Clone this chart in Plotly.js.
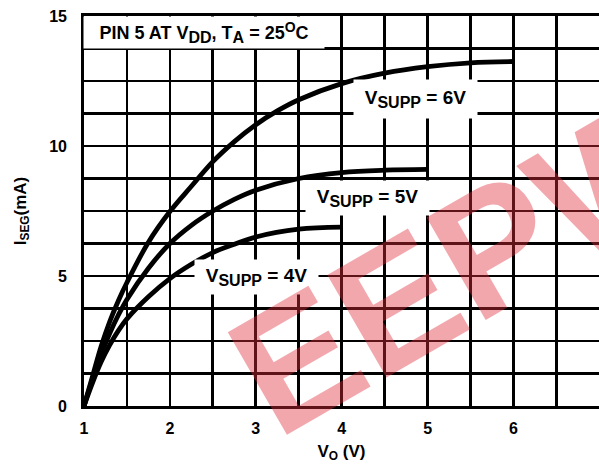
<!DOCTYPE html>
<html>
<head>
<meta charset="utf-8">
<script src="https://cdn.plot.ly/plotly-3.0.1.min.js"></script>
<style>html,body{margin:0;padding:0;background:#fff;}#chart{width:599px;height:465px;}</style>
</head>
<body>
<div id="chart"></div>
<script>
// Output voltage V_O (V) and segment current I_SEG (mA)
const vo6 = [1, 1.1, 1.2, 1.3, 1.4, 1.5, 1.75, 2.0, 2.25, 2.5, 2.75, 3.0, 3.25, 3.5, 4.0, 4.5, 5.0, 5.5, 6.0];
const iseg6 = [0, 1.15, 2.3, 3.25, 4.05, 4.75, 6.3, 7.48, 8.45, 9.4, 10.17, 10.82, 11.35, 11.78, 12.4, 12.8, 13.05, 13.2, 13.25];

const vo5 = [1, 1.1, 1.2, 1.3, 1.4, 1.5, 1.75, 2.0, 2.25, 2.5, 2.75, 3.0, 3.5, 4.0, 4.5, 5.0];
const iseg5 = [0, 1.05, 2.0, 2.8, 3.5, 4.1, 5.3, 6.25, 6.95, 7.5, 7.95, 8.3, 8.75, 8.98, 9.07, 9.1];

const vo4 = [1, 1.1, 1.2, 1.3, 1.4, 1.5, 1.75, 2.0, 2.25, 2.5, 2.75, 3.0, 3.5, 4.0];
const iseg4 = [0, 0.9, 1.7, 2.35, 2.9, 3.35, 4.2, 4.9, 5.45, 5.9, 6.22, 6.5, 6.8, 6.88];

const seriesNames = ["V<sub>SUPP</sub> = 6V", "V<sub>SUPP</sub> = 5V", "V<sub>SUPP</sub> = 4V"];

const FONT = "Liberation Sans, Arial, Helvetica, sans-serif";
const lineStyle = {color: "black", width: 4.8, shape: "spline", smoothing: 1};

const traces = [
  {x: vo6, y: iseg6, name: seriesNames[0], mode: "lines", line: lineStyle},
  {x: vo5, y: iseg5, name: seriesNames[1], mode: "lines", line: lineStyle},
  {x: vo4, y: iseg4, name: seriesNames[2], mode: "lines", line: lineStyle}
];

function sub(s, px) { return '<sub><span style="font-size:' + px + 'px">' + s + '</span></sub>'; }
function lbl(txt, x, y, w, h) {
  return {
    text: txt, x: x, y: y, xref: "x", yref: "y", showarrow: false,
    bgcolor: "white", width: w, height: h, borderpad: 0,
    font: {family: FONT, size: 19, color: "black", weight: "bold"}
  };
}

const annotations = [
  {
    text: "PIN 5 AT V" + sub("DD", 16) + ", T" + sub("A", 16) + ' = 25<sup><span style="font-size:14px">O</span></sup>C',
    x: 2.40, y: 14.35, xref: "x", yref: "y", showarrow: false,
    bgcolor: "white", width: 240, height: 31, borderpad: 0,
    font: {family: FONT, size: 18, color: "black", weight: "bold"}
  },
  lbl("V" + sub("SUPP", 16) + " = 6V", 4.86, 11.8, 123, 38),
  lbl("V" + sub("SUPP", 16) + " = 5V", 4.30, 8.0, 123, 34),
  lbl("V" + sub("SUPP", 16) + " = 4V", 3.01, 4.95, 123, 34),
  {
    text: "EEPW", x: 5.45, y: 5.55, xref: "x", yref: "y", showarrow: false,
    textangle: -30,
    font: {family: FONT, size: 172, color: "rgba(225,45,60,0.42)", weight: "bold"}
  }
];

const layout = {
  width: 599, height: 465,
  margin: {l: 84, r: 0, t: 16, b: 59},
  paper_bgcolor: "white", plot_bgcolor: "white",
  showlegend: false,
  font: {family: FONT, color: "black"},
  xaxis: {
    range: [1, 6.995],
    tickmode: "linear", tick0: 1, dtick: 1,
    showgrid: true, gridcolor: "black", gridwidth: 2.8,
    minor: {tick0: 1, dtick: 0.5, showgrid: true, gridcolor: "black", gridwidth: 2.8},
    showline: true, linecolor: "black", linewidth: 2.8, mirror: true,
    zeroline: false, ticks: "", ticklabelstandoff: 6,
    tickfont: {family: FONT, size: 16, color: "black", weight: "bold"},
    title: {text: "V<sub>O</sub> (V)", standoff: 9, font: {family: FONT, size: 17, color: "black", weight: "bold"}}
  },
  yaxis: {
    range: [0, 15],
    tickmode: "linear", tick0: 0, dtick: 5,
    showgrid: true, gridcolor: "black", gridwidth: 2.8,
    minor: {tick0: 0, dtick: 1.25, showgrid: true, gridcolor: "black", gridwidth: 2.8},
    showline: true, linecolor: "black", linewidth: 2.8, mirror: true,
    zeroline: false, ticks: "", ticklabelstandoff: 11,
    tickfont: {family: FONT, size: 16, color: "black", weight: "bold"},
    title: {text: "I<sub>SEG</sub>(mA)", standoff: 19, font: {family: FONT, size: 17, color: "black", weight: "bold"}}
  },
  annotations: annotations
};

Plotly.newPlot("chart", traces, layout, {displayModeBar: false, staticPlot: true});
</script>
</body>
</html>
